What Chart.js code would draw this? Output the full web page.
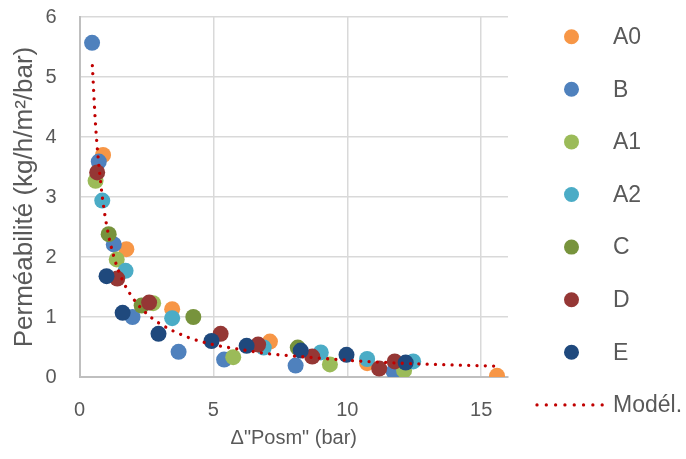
<!DOCTYPE html>
<html>
<head>
<meta charset="utf-8">
<script src="https://cdn.jsdelivr.net/npm/chart.js@4"></script>
<style>
  html, body { margin: 0; padding: 0; background: #ffffff; }
  #wrap { width: 686px; height: 459px; }
</style>
</head>
<body>
<div id="wrap"><canvas id="permChart" width="686" height="459"></canvas></div>
<script>
// Values
const seriesNames = ['A0', 'B', 'A1', 'A2', 'C', 'D', 'E'];
const seriesColors = ['#F79646', '#4F81BD', '#9BBB59', '#4BACC6', '#77933C', '#953735', '#1F497D'];

const a0X = [0.88, 1.75, 3.46, 7.11, 10.74, 15.59];
const a0Y = [3.70, 2.13, 1.13, 0.59, 0.23, 0.02];

const bX = [0.47, 0.72, 1.28, 1.98, 3.70, 5.40, 8.07, 11.73];
const bY = [5.57, 3.59, 2.21, 1.00, 0.42, 0.29, 0.19, 0.09];

const a1X = [0.60, 1.39, 2.75, 5.74, 9.35, 12.12];
const a1Y = [3.27, 1.96, 1.23, 0.33, 0.21, 0.11];

const a2X = [0.85, 1.72, 3.46, 6.88, 9.01, 10.74, 12.46];
const a2Y = [2.94, 1.77, 0.98, 0.49, 0.41, 0.30, 0.26];

const cX = [1.09, 2.32, 4.25, 8.15];
const cY = [2.38, 1.19, 1.00, 0.49];

const dX = [0.66, 1.41, 2.60, 5.27, 6.67, 8.69, 11.19, 11.77];
const dY = [3.41, 1.64, 1.24, 0.72, 0.54, 0.34, 0.14, 0.26];

const eX = [1.01, 1.61, 2.95, 4.93, 6.24, 8.26, 9.97, 12.18];
const eY = [1.68, 1.07, 0.72, 0.60, 0.52, 0.44, 0.37, 0.24];

// dotted model curve
const modelX = [0.48, 0.6, 0.8, 1.0, 1.3, 1.6, 2.0, 2.5, 3.0, 4.0, 5.0, 6.0, 7.0, 8.0, 10.0, 12.0, 14.0, 15.7];
const modelY = [5.19, 4.20, 3.20, 2.56, 1.98, 1.62, 1.31, 1.06, 0.89, 0.67, 0.54, 0.46, 0.39, 0.35, 0.28, 0.23, 0.20, 0.18];
const modelName = 'Modél.';

const xTicks = [0, 5, 10, 15];
const xTitle = 'Δ"Posm" (bar)';
const yTitle = 'Perméabilité (kg/h/m²/bar)';

const FONT = "'Liberation Sans', Arial, sans-serif";
const TEXT = '#595959';
const MODEL_COLOR = '#C00000';

const pairs = (xs, ys) => xs.map((x, i) => ({ x, y: ys[i] }));
const allX = [a0X, bX, a1X, a2X, cX, dX, eX];
const allY = [a0Y, bY, a1Y, a2Y, cY, dY, eY];

const datasets = seriesNames.map((name, i) => ({
    type: 'scatter',
    label: name,
    data: pairs(allX[i], allY[i]),
    backgroundColor: seriesColors[i],
    borderColor: seriesColors[i],
    borderWidth: 0,
    pointRadius: 8,
    pointHoverRadius: 8,
    order: seriesNames.length - i
}));

datasets.push({
    type: 'line',
    label: modelName,
    data: pairs(modelX, modelY),
    borderColor: MODEL_COLOR,
    borderWidth: 3.3,
    borderDash: [0.01, 8.3],
    borderCapStyle: 'round',
    cubicInterpolationMode: 'monotone',
    pointRadius: 0,
    fill: false,
    order: 0
});

// right-hand legend, Excel style
const sideLegend = {
    id: 'sideLegend',
    afterDraw(chart) {
        const ctx = chart.ctx;
        ctx.save();
        ctx.font = '23px ' + FONT;
        ctx.textBaseline = 'middle';
        ctx.textAlign = 'left';
        const rowH = 52.6;
        seriesNames.forEach((name, i) => {
            const y = 36.7 + i * rowH;
            ctx.beginPath();
            ctx.fillStyle = seriesColors[i];
            ctx.arc(571.5, y, 7.5, 0, Math.PI * 2);
            ctx.fill();
            ctx.fillStyle = TEXT;
            ctx.fillText(name, 613, y + 1);
        });
        const my = 36.7 + seriesNames.length * rowH;
        ctx.strokeStyle = MODEL_COLOR;
        ctx.lineWidth = 3.3;
        ctx.lineCap = 'round';
        ctx.setLineDash([0.01, 9.3]);
        ctx.beginPath();
        ctx.moveTo(537, my);
        ctx.lineTo(606, my);
        ctx.stroke();
        ctx.setLineDash([]);
        ctx.fillStyle = TEXT;
        ctx.fillText(modelName, 613, my + 1);
        ctx.restore();
    }
};

new Chart(document.getElementById('permChart'), {
    type: 'scatter',
    data: { datasets },
    options: {
        responsive: false,
        animation: false,
        devicePixelRatio: 1,
        layout: { padding: { left: 0, right: 178, top: 0, bottom: 0 } },
        plugins: {
            legend: { display: false },
            tooltip: { enabled: false }
        },
        scales: {
            x: {
                type: 'linear',
                min: 0,
                max: 16,
                afterBuildTicks: (scale) => { scale.ticks = xTicks.map(v => ({ value: v })); },
                afterFit: (scale) => { scale.height = 82; },
                ticks: { color: TEXT, font: { family: FONT, size: 20 }, padding: 21 },
                grid: { color: '#D9D9D9', lineWidth: 1.5, drawTicks: false },
                border: { color: '#BFBFBF', width: 2 },
                title: {
                    display: true,
                    text: xTitle,
                    color: TEXT,
                    font: { family: FONT, size: 20 },
                    padding: { top: 0, bottom: 9 }
                }
            },
            y: {
                type: 'linear',
                min: 0,
                max: 6,
                ticks: { stepSize: 1, color: TEXT, font: { family: FONT, size: 20 }, padding: 23 },
                afterFit: (scale) => {
                    scale.width = 79.5;
                    // tick padding is otherwise added on top of the plot
                    scale.paddingTop = 17;
                    scale.paddingBottom = 10;
                },
                grid: { color: '#D9D9D9', lineWidth: 1.5, drawTicks: false },
                border: { color: '#BFBFBF', width: 2 },
                title: {
                    display: true,
                    text: yTitle,
                    color: TEXT,
                    font: { family: FONT, size: 26 },
                    padding: { top: 9, bottom: 0 }
                }
            }
        }
    },
    plugins: [sideLegend]
});
</script>
</body>
</html>
